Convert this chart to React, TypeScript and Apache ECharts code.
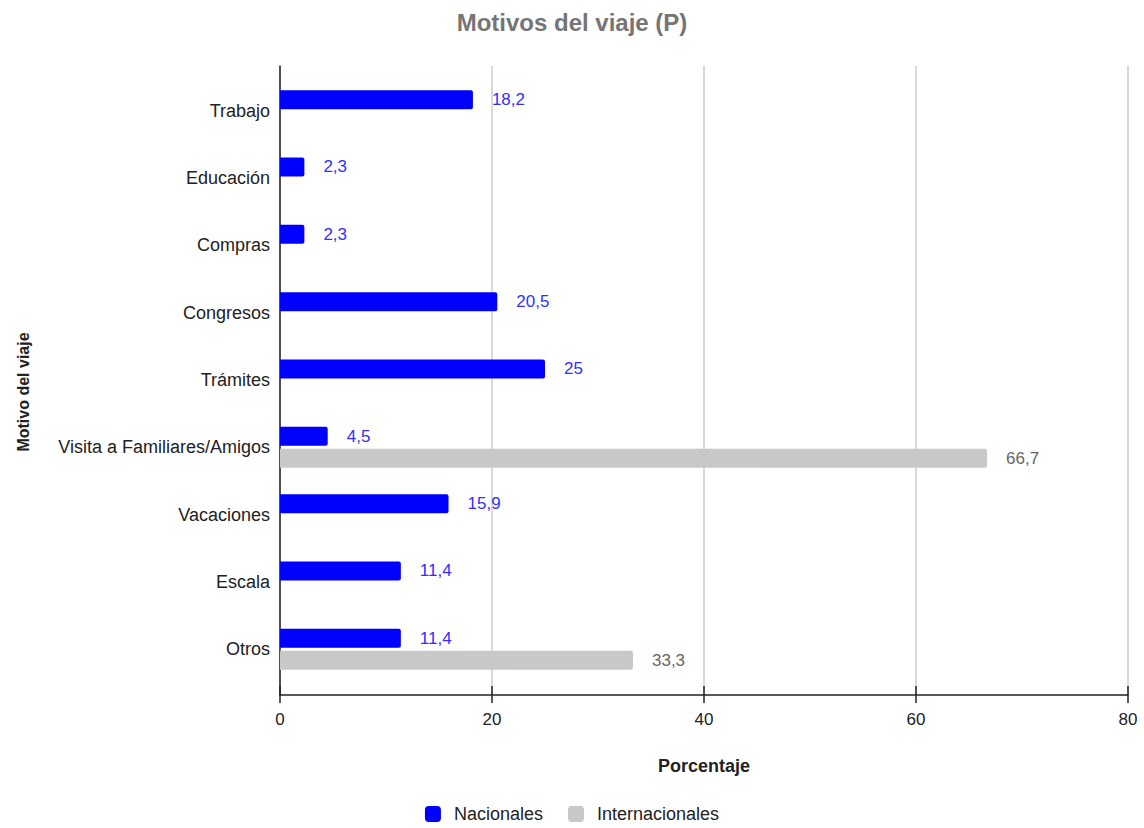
import React, { useEffect, useRef } from "react";
import * as echarts from "echarts";

// Travel reasons, top to bottom
const categories = [
  "Trabajo",
  "Educación",
  "Compras",
  "Congresos",
  "Trámites",
  "Visita a Familiares/Amigos",
  "Vacaciones",
  "Escala",
  "Otros",
];

// Percentages per reason (null = no bar)
const nacionales = [18.2, 2.3, 2.3, 20.5, 25, 4.5, 15.9, 11.4, 11.4];
const internacionales: (number | null)[] = [null, null, null, null, null, 66.7, null, null, 33.3];

const xTicks = { min: 0, max: 80, interval: 20 };

const fmt = (v: number) => String(v).replace(".", ",");

export default function App() {
  const ref = useRef<HTMLDivElement>(null);

  useEffect(() => {
    document.body.style.margin = "0";
    if (!ref.current) return;
    const chart = echarts.init(ref.current, null, { renderer: "svg" });

    const sans = "'Liberation Sans', Arial, sans-serif";

    chart.setOption({
      animation: false,
      backgroundColor: "#ffffff",
      title: {
        text: "Motivos del viaje (P)",
        left: "center",
        top: 5,
        textStyle: {
          fontFamily: sans,
          fontSize: 24,
          fontWeight: "bold",
          color: "#757575",
        },
      },
      legend: {
        bottom: 0,
        left: "center",
        itemWidth: 16,
        itemHeight: 16,
        itemGap: 25,
        icon: "roundRect",
        textStyle: {
          fontFamily: sans,
          fontSize: 18,
          color: "#222222",
          padding: [0, 0, 0, 8],
        },
        data: ["Nacionales", "Internacionales"],
      },
      grid: [
        // frame: gridlines, axis lines and ticks
        { left: 280, right: 16, top: 66, bottom: 133 },
        // bars and category labels
        { left: 280, right: 16, top: 77, bottom: 145 },
      ],
      xAxis: [
        {
          type: "value",
          gridIndex: 0,
          ...xTicks,
          axisLine: { show: true, lineStyle: { color: "#222222", width: 1.5 } },
          axisTick: { show: true, length: 8, lineStyle: { color: "#222222", width: 1.5 } },
          axisLabel: {
            margin: 16,
            fontFamily: sans,
            fontSize: 17,
            color: "#222222",
          },
          splitLine: { show: true, lineStyle: { color: "#cccccc", width: 1.5 } },
        },
        {
          type: "value",
          gridIndex: 1,
          ...xTicks,
          show: false,
          splitLine: { show: false },
        },
        {
          // upper half of the crossing ticks
          type: "value",
          gridIndex: 0,
          ...xTicks,
          position: "bottom",
          axisLine: { show: false },
          axisTick: { show: true, inside: true, length: 9, lineStyle: { color: "#222222", width: 1.5 } },
          axisLabel: { show: false },
          splitLine: { show: false },
        },
      ],
      yAxis: [
        {
          type: "value",
          gridIndex: 0,
          min: 0,
          max: 1,
          axisLine: { show: true, lineStyle: { color: "#222222", width: 1.5 } },
          axisTick: { show: false },
          axisLabel: { show: false },
          splitLine: { show: false },
        },
        {
          type: "category",
          gridIndex: 1,
          inverse: true,
          data: categories,
          axisLine: { show: false },
          axisTick: { show: false },
          axisLabel: {
            margin: 10,
            fontFamily: sans,
            fontSize: 18,
            color: "#222222",
          },
        },
      ],
      series: [
        {
          name: "Nacionales",
          type: "bar",
          xAxisIndex: 1,
          yAxisIndex: 1,
          data: nacionales,
          barWidth: 19,
          barGap: "16%",
          itemStyle: { color: "#0000ff", borderRadius: [0, 2, 2, 0] },
          label: {
            show: true,
            position: "right",
            distance: 19,
            fontFamily: sans,
            fontSize: 17,
            color: "#3030ff",
            formatter: (p: any) => fmt(p.value),
          },
        },
        {
          name: "Internacionales",
          type: "bar",
          xAxisIndex: 1,
          yAxisIndex: 1,
          data: internacionales,
          barWidth: 19,
          barGap: "16%",
          itemStyle: { color: "#c8c8c8", borderRadius: [0, 2, 2, 0] },
          label: {
            show: true,
            position: "right",
            distance: 19,
            fontFamily: sans,
            fontSize: 17,
            color: "#666666",
            formatter: (p: any) => (p.value == null ? "" : fmt(p.value)),
          },
        },
      ],
      graphic: [
        {
          type: "text",
          x: 23,
          y: 392,
          rotation: Math.PI / 2,
          style: {
            text: "Motivo del viaje",
            fontFamily: sans,
            fontSize: 16,
            fontWeight: "bold",
            fill: "#222222",
            align: "center",
            verticalAlign: "middle",
          },
        },
        {
          type: "text",
          x: 704,
          y: 766,
          style: {
            text: "Porcentaje",
            fontFamily: sans,
            fontSize: 18,
            fontWeight: "bold",
            fill: "#222222",
            align: "center",
            verticalAlign: "middle",
          },
        },
      ],
    });

    return () => chart.dispose();
  }, []);

  return <div ref={ref} style={{ width: 1144, height: 828 }} />;
}
